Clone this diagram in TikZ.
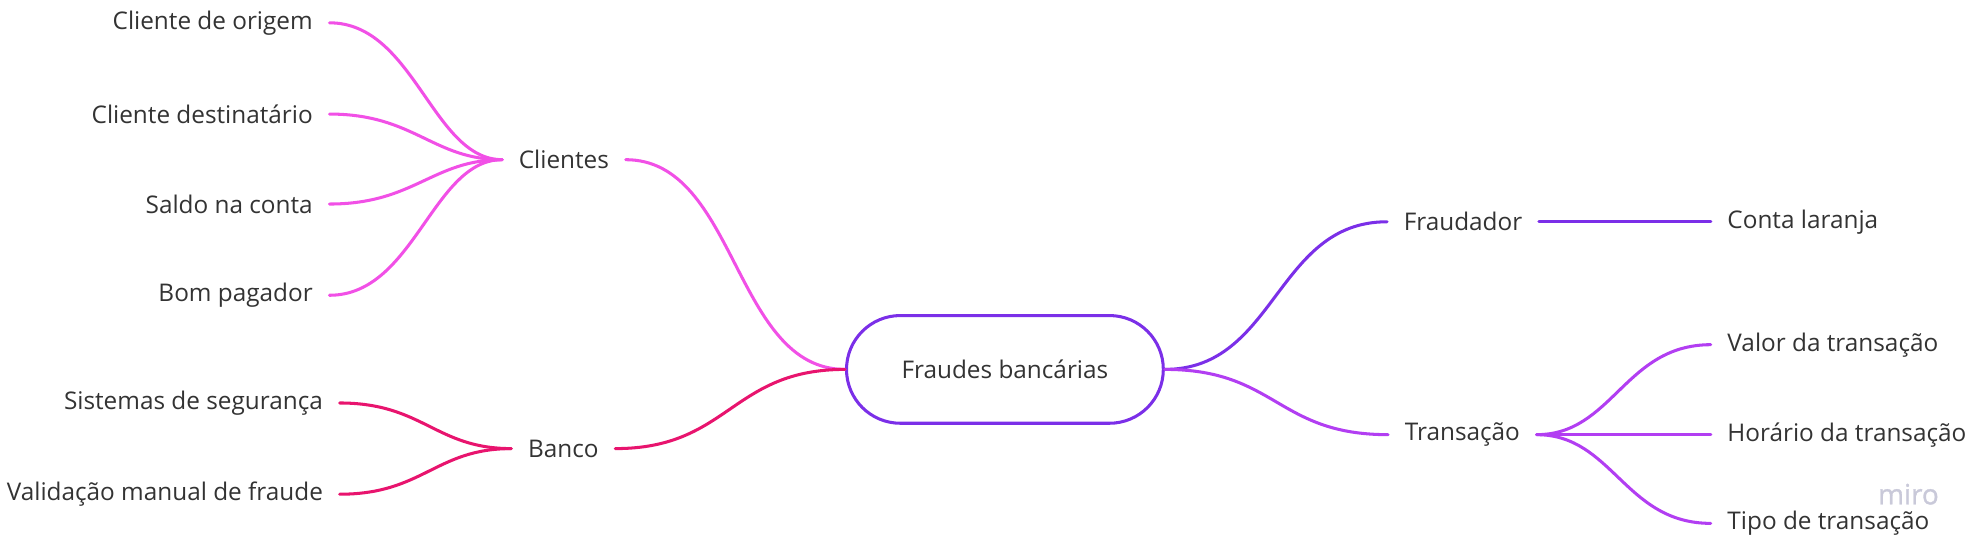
\documentclass[tikz,border=0pt]{standalone}
\usepackage{fontspec}
\setmainfont{Open Sans}
\newfontfamily\mirofont[FakeBold=1.2]{Open Sans}
\definecolor{txt}{HTML}{333333}
\definecolor{cpink}{HTML}{F150E6}
\definecolor{cred}{HTML}{E8146E}
\definecolor{cviolet}{HTML}{7B2FE8}
\definecolor{cpurple}{HTML}{B23EF2}
\definecolor{cmiro}{HTML}{C9C9D9}
\begin{document}
\begin{tikzpicture}[x=1pt,y=-1pt,
  lbl/.style={text=txt,font=\fontsize{19.2}{23}\selectfont,inner xsep=13,inner ysep=2},
  root/.style={lbl,draw=cviolet,line width=2.4,rounded corners=42.5,minimum width=250,minimum height=85},
  link/.style={line width=2.4,line cap=round}]
\useasboundingbox (0,0) rectangle (1568,437);

% root
\node[root] (root) at (793,291.5) {Fraudes bancárias};

% hubs
\node[lbl] (cli) at (445,126) {Clientes};
\node[lbl] (ban) at (444.5,354) {Banco};
\node[lbl] (fra) at (1154.5,175) {Fraudador};
\node[lbl] (tra) at (1154,343) {Transação};

% left leaves
\node[lbl,anchor=east] (c1) at (260,18) {Cliente de origem};
\node[lbl,anchor=east] (c2) at (260,90) {Cliente destinatário};
\node[lbl,anchor=east] (c3) at (260,161) {Saldo na conta};
\node[lbl,anchor=east] (c4) at (260,233) {Bom pagador};
\node[lbl,anchor=east] (b1) at (268,318) {Sistemas de segurança};
\node[lbl,anchor=east] (b2) at (268,390) {Validação manual de fraude};

% right leaves
\node[lbl,anchor=west] (f1) at (1350,175) {Conta laranja};
\node[lbl,anchor=west] (t1) at (1350,272) {Valor da transação};
\node[lbl,anchor=west] (t2) at (1350,343) {Horário da transação};
\node[lbl,anchor=west] (t3) at (1350,413) {Tipo de transação};

% watermark
\node[text=cmiro,font=\fontsize{22}{25}\mirofont,inner sep=0] (miro) at (1506,390) {miro};

% connectors: root to hubs
\draw[link,cpink] (cli.east) .. controls +(88,0) and +(-88,0) .. (root.west);
\draw[link,cred] (ban.east) .. controls +(90,0) and +(-90,0) .. (root.west);
\draw[link,cviolet] (root.east) .. controls +(88,0) and +(-88,0) .. (fra.west);
\draw[link,cpurple] (root.east) .. controls +(88,0) and +(-88,0) .. (tra.west);

% Clientes leaves
\foreach \n in {c1,c2,c3,c4}
  \draw[link,cpink] (\n.east) .. controls +(67,0) and +(-55,0) .. (cli.west);
% Banco leaves
\foreach \n in {b1,b2}
  \draw[link,cred] (\n.east) .. controls +(66,0) and +(-60,0) .. (ban.west);
% Fraudador leaf
\draw[link,cviolet] (fra.east) -- (f1.west);
% Transacao leaves
\foreach \n in {t1,t2,t3}
  \draw[link,cpurple] (tra.east) .. controls +(60,0) and +(-68,0) .. (\n.west);
\end{tikzpicture}
\end{document}
